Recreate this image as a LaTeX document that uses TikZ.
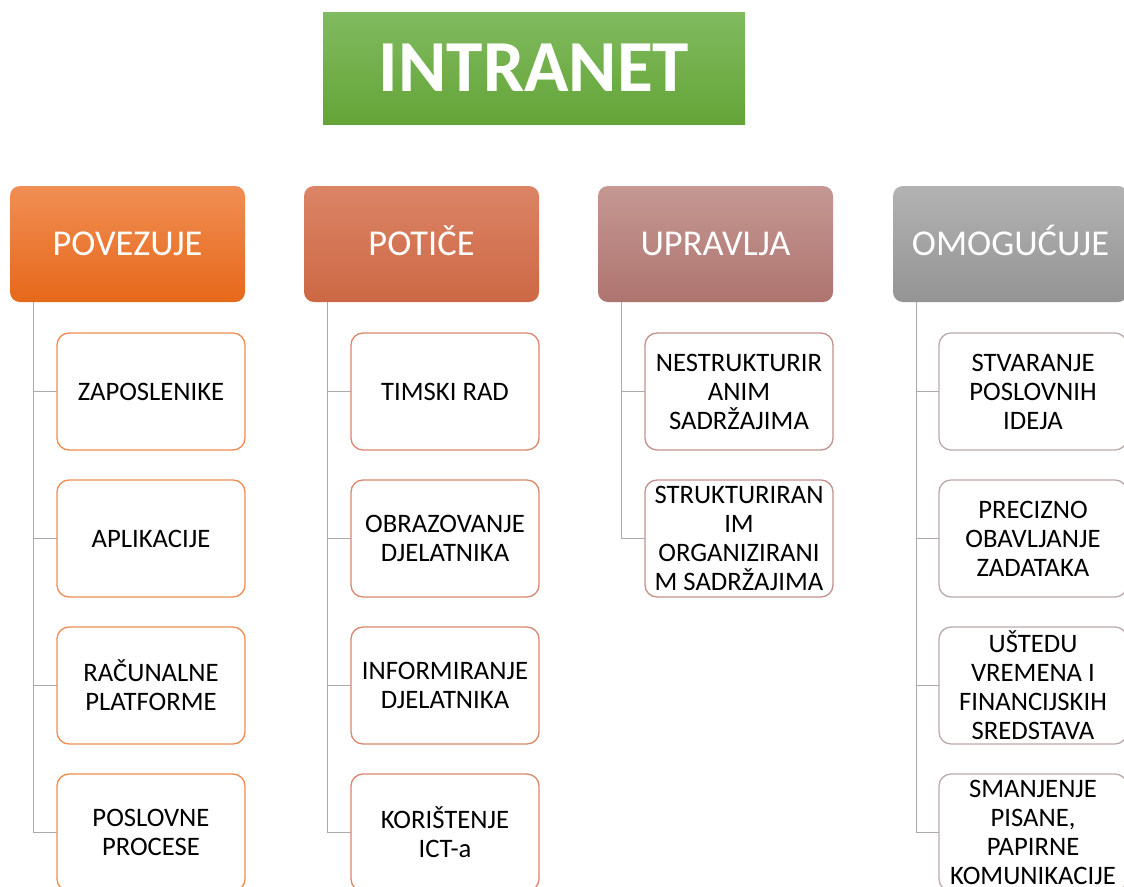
\documentclass[tikz,border=0pt]{standalone}
\usepackage{fontspec}
\setmainfont{Carlito}
\usetikzlibrary{calc}
\definecolor{gtop}{RGB}{128,187,96}
\definecolor{gbot}{RGB}{100,164,55}
\definecolor{oatop}{RGB}{240,142,84}
\definecolor{oabot}{RGB}{230,104,26}
\definecolor{obtop}{RGB}{219,132,102}
\definecolor{obbot}{RGB}{204,104,68}
\definecolor{octop}{RGB}{197,152,147}
\definecolor{ocbot}{RGB}{174,116,111}
\definecolor{odtop}{RGB}{178,178,178}
\definecolor{odbot}{RGB}{148,148,148}
\definecolor{bda}{RGB}{240,140,80}
\definecolor{bdb}{RGB}{218,135,110}
\definecolor{bdc}{RGB}{196,145,140}
\definecolor{bdd}{RGB}{188,170,170}
\definecolor{conncol}{RGB}{170,170,170}
\tikzset{
  titlebox/.style={inner sep=0pt, outer sep=0pt, minimum width=316.5pt, minimum height=84pt,
    top color=gtop, bottom color=gbot, text=white,
    font=\fontsize{55}{60}\selectfont\bfseries},
  headbox/.style={inner sep=0pt, outer sep=0pt, minimum width=176.25pt, minimum height=87pt,
    rounded corners=7.5pt, text=white, text height=17.4pt, text depth=0pt,
    font=\fontsize{27.3}{32}\selectfont},
  childbox/.style={inner sep=0pt, outer sep=0pt, minimum width=141pt, minimum height=87.75pt,
    rounded corners=9pt, draw, line width=1pt, fill=white, align=center,
    font=\fontsize{20}{21.75}\selectfont},
  conn/.style={draw=conncol, line width=1.2pt},
}
\begin{document}
\begin{tikzpicture}[x=0.75pt,y=-0.75pt]
\clip (0,0) rectangle (1124,886);
\fill[white] (0,0) rectangle (1124,886);
\node[titlebox] (title) at (534,68) {INTRANET};
% headers
\node[headbox, top color=oatop, bottom color=oabot] (h1) at (127.5,244) {POVEZUJE};
\node[headbox, top color=obtop, bottom color=obbot] (h2) at (421.5,244) {POTIČE};
\node[headbox, top color=octop, bottom color=ocbot] (h3) at (715.5,244) {UPRAVLJA};
\node[headbox, top color=odtop, bottom color=odbot] (h4) at (1010.5,244) {OMOGUĆUJE};
% column 1
\node[childbox, draw=bda] (a1) at (151,391.5) {ZAPOSLENIKE};
\node[childbox, draw=bda] (a2) at (151,538.5) {APLIKACIJE};
\node[childbox, draw=bda] (a3) at (151,685.5) {RAČUNALNE\\PLATFORME};
\node[childbox, draw=bda] (a4) at (151,832.5) {POSLOVNE\\PROCESE};
% column 2
\node[childbox, draw=bdb] (b1) at (445,391.5) {TIMSKI RAD};
\node[childbox, draw=bdb] (b2) at (445,538.5) {OBRAZOVANJE\\DJELATNIKA};
\node[childbox, draw=bdb] (b3) at (445,685.5) {INFORMIRANJE\\DJELATNIKA};
\node[childbox, draw=bdb] (b4) at (445,832.5) {KORIŠTENJE\\ICT-a};
% column 3
\node[childbox, draw=bdc] (c1) at (739,391.5) {NESTRUKTURIR\\ANIM\\SADRŽAJIMA};
\node[childbox, draw=bdc] (c2) at (739,538.5) {STRUKTURIRAN\\IM\\ORGANIZIRANI\\M SADRŽAJIMA};
% column 4
\node[childbox, draw=bdd] (d1) at (1033,391.5) {STVARANJE\\POSLOVNIH\\IDEJA};
\node[childbox, draw=bdd] (d2) at (1033,538.5) {PRECIZNO\\OBAVLJANJE\\ZADATAKA};
\node[childbox, draw=bdd] (d3) at (1033,685.5) {UŠTEDU\\VREMENA I\\FINANCIJSKIH\\SREDSTAVA};
\node[childbox, draw=bdd] (d4) at (1033,832.5) {SMANJENJE\\PISANE,\\PAPIRNE\\KOMUNIKACIJE};
% connectors
\foreach \h/\c in {h1/a1,h1/a2,h1/a3,h1/a4,h2/b1,h2/b2,h2/b3,h2/b4,h3/c1,h3/c2,h4/d1,h4/d2,h4/d3,h4/d4}{
  \draw[conn] ($(\h.south west)+(23.5,0)$) |- (\c.west);
}
\end{tikzpicture}
\end{document}
